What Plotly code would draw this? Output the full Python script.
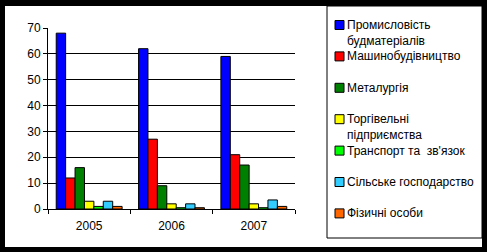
import plotly.graph_objects as go

years = ["2005", "2006", "2007"]
series_names = [
    "Промисловість<br>будматеріалів",
    "Машинобудівництво",
    "Металургія",
    "Торгівельні<br>підприємства",
    "Транспорт та  зв'язок",
    "Сільське господарство",
    "Фізичні особи",
]
v_bud = [68, 62, 59]
v_mash = [12, 27, 21]
v_met = [16, 9, 17]
v_torg = [3, 2, 2]
v_trans = [1, 0.5, 0.5]
v_silsk = [3, 2, 3.5]
v_fiz = [1, 0.5, 1]
series_values = [v_bud, v_mash, v_met, v_torg, v_trans, v_silsk, v_fiz]
colors = ["#0000FF", "#FF0000", "#008000", "#FFFF00", "#00FF00", "#33CCFF", "#FF6600"]

W, H = 487, 252
L, R, T, B = 48, 295, 28, 209  # plot area in px


def px_x(px):
    return (px - L) / (R - L)


def px_y(py):
    return (B - py) / (B - T)


fig = go.Figure()
for name, vals, col in zip(series_names, series_values, colors):
    fig.add_trace(go.Bar(
        x=years, y=vals, name=name.replace("<br>", " "),
        marker=dict(color=col, line=dict(color="black", width=1)),
        showlegend=False,
    ))

shapes = [
    # white inner page inside the black frame
    dict(type="rect", xref="paper", yref="paper", layer="below",
         x0=px_x(5), x1=px_x(482), y0=px_y(247), y1=px_y(6),
         fillcolor="white", line=dict(width=0)),
    # legend box
    dict(type="rect", xref="paper", yref="paper",
         x0=px_x(327), x1=px_x(482), y0=px_y(238), y1=px_y(6),
         fillcolor="rgba(0,0,0,0)", line=dict(color="black", width=1)),
]
annotations = []
for i, (name, col) in enumerate(zip(series_names, colors)):
    cy = 25 + i * 31.4
    shapes.append(dict(type="rect", xref="paper", yref="paper",
                       x0=px_x(335), x1=px_x(344), y0=px_y(cy + 4.5), y1=px_y(cy - 4.5),
                       fillcolor=col, line=dict(color="black", width=1)))
    annotations.append(dict(xref="paper", yref="paper", x=px_x(346), y=px_y(cy - 8),
                            xanchor="left", yanchor="top", text=name, showarrow=False,
                            align="left", borderpad=0,
                            font=dict(family="Liberation Sans, Arial", size=12, color="black")))

fig.update_layout(
    width=W, height=H,
    margin=dict(l=L, r=W - R, t=T, b=H - B),
    paper_bgcolor="black",
    plot_bgcolor="rgba(0,0,0,0)",
    barmode="group", bargap=0.2, bargroupgap=0,
    font=dict(family="Liberation Sans, Arial", size=12, color="black"),
    shapes=shapes, annotations=annotations,
    showlegend=False,
)
fig.update_yaxes(range=[0, 70], dtick=10, showgrid=True, gridcolor="black", gridwidth=1,
                 showline=True, linecolor="black", linewidth=1, ticks="outside",
                 ticklen=4, tickcolor="black", zeroline=False)
fig.update_xaxes(showline=True, linecolor="black", linewidth=1, ticks="outside",
                 tickson="boundaries", ticklen=4, tickcolor="black", showgrid=False,
                 ticklabelstandoff=6)

fig.write_html("out.html")
